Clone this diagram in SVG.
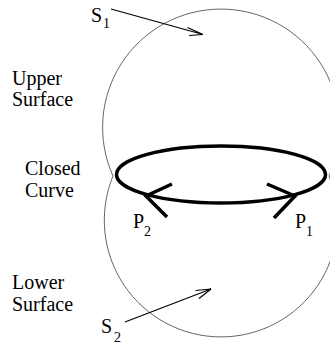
<svg xmlns="http://www.w3.org/2000/svg" width="330" height="348" viewBox="0 0 330 348">
<style>
.lbl{font-family:"Liberation Serif","Times New Roman",serif;font-size:20px;fill:#000}
.sub{font-family:"Liberation Serif","Times New Roman",serif;font-size:14px;fill:#000}
.surf{fill:none;stroke:#555;stroke-width:0.9}
.curve{fill:none;stroke:#000;stroke-width:3.5;stroke-linecap:butt}
.ptr{fill:none;stroke:#000;stroke-width:1.2}
</style>
<rect width="330" height="348" fill="#fff"/>
<g id="upper-surface">
<path class="surf" d="M113,176 A118.4,118.4 0 1 1 329,176"/>
</g>
<g id="lower-surface">
<path class="surf" d="M113,176 A116.7,116.7 0 1 0 329,176"/>
</g>
<g id="closed-curve">
<ellipse class="curve" cx="221" cy="174.5" rx="104.5" ry="28.5"/>
</g>
<g id="P2">
<polyline class="curve" points="172,184 146,196 167,217"/>
<text class="lbl" x="133" y="228">P</text><text class="sub" x="144" y="236">2</text>
</g>
<g id="P1">
<polyline class="curve" points="267,184 295,196 274,218"/>
<text class="lbl" x="295" y="228">P</text><text class="sub" x="306" y="236">1</text>
</g>
<g id="labels">
<text class="lbl" x="12" y="85">Upper</text>
<text class="lbl" x="12" y="106">Surface</text>
<text class="lbl" x="25" y="175">Closed</text>
<text class="lbl" x="25" y="197">Curve</text>
<text class="lbl" x="12" y="289">Lower</text>
<text class="lbl" x="12" y="311">Surface</text>
<g id="S1"><text class="lbl" x="91" y="22">S</text><text class="sub" x="103" y="28">1</text></g>
<g id="S2"><text class="lbl" x="101" y="333">S</text><text class="sub" x="114" y="342">2</text></g>
</g>
<g id="connectors">
<path class="ptr" d="M111,9 L203,34.5 M203,34.5 L187.5,27.5 M203,34.5 L189,35.5"/>
<path class="ptr" d="M125,322 L211,289 M211,289 L195.5,290.5 M211,289 L199,298.5"/>
</g>
</svg>
